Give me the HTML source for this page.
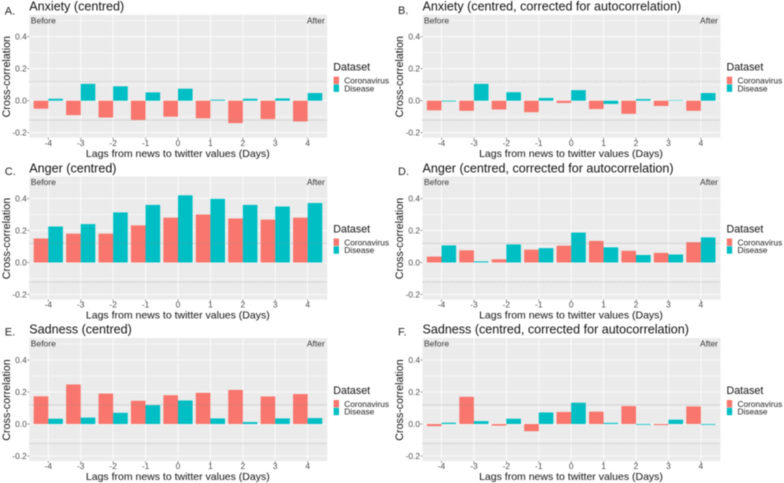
<!DOCTYPE html>
<html>
<head>
<meta charset="utf-8">
<style>
html,body{margin:0;padding:0;background:#fff;width:784px;height:483px;overflow:hidden}
svg{display:block;filter:blur(0.45px)}
text{font-family:"Liberation Sans",sans-serif}
</style>
</head>
<body>
<svg id="fig" xmlns="http://www.w3.org/2000/svg" width="784" height="483" viewBox="0 0 784 483"></svg>
<script>
var lags = [-4,-3,-2,-1,0,1,2,3,4];
var yTicks = [0.4,0.2,0,-0.2];
var yTickLabels = ['0.4','0.2','0.0','-0.2'];
var yMinor = [0.5,0.3,0.1,-0.1];
var significance = [0.12,-0.122];
var seriesNames = ['Coronavirus','Disease'];
var seriesColors = ['#F8766D','#00BFC4'];

var anxietyCorona = [-0.05,-0.09,-0.105,-0.12,-0.1,-0.11,-0.14,-0.115,-0.13];
var anxietyDisease = [0.012,0.105,0.09,0.052,0.075,0.006,0.012,0.014,0.048];
var anxietyCorrCorona = [-0.06,-0.063,-0.055,-0.072,-0.014,-0.052,-0.082,-0.033,-0.063];
var anxietyCorrDisease = [-0.005,0.105,0.053,0.017,0.066,-0.02,0.01,0.003,0.048];
var angerCorona = [0.15,0.18,0.18,0.232,0.28,0.3,0.275,0.268,0.28];
var angerDisease = [0.225,0.24,0.313,0.36,0.42,0.398,0.36,0.35,0.372];
var angerCorrCorona = [0.037,0.076,0.02,0.08,0.105,0.135,0.073,0.06,0.127];
var angerCorrDisease = [0.107,0.007,0.113,0.09,0.187,0.095,0.047,0.05,0.157];
var sadnessCorona = [0.173,0.247,0.19,0.145,0.18,0.195,0.213,0.172,0.187];
var sadnessDisease = [0.033,0.04,0.07,0.118,0.147,0.035,0.012,0.035,0.037];
var sadnessCorrCorona = [-0.013,0.17,-0.01,-0.045,0.075,0.077,0.112,-0.007,0.11];
var sadnessCorrDisease = [0.008,0.018,0.033,0.072,0.133,0.007,-0.005,0.027,-0.005];

var NS = 'http://www.w3.org/2000/svg';
var fig = document.getElementById('fig');

function make(parent, tag, attrs, txt) {
  var el = document.createElementNS(NS, tag);
  for (var k in attrs) el.setAttribute(k, attrs[k]);
  if (txt !== undefined) el.textContent = txt;
  parent.appendChild(el);
  return el;
}

function drawPanel(letter, title, corona, disease, L, T, letterY, titleY, tickY, xTitleY) {
  var plotW = 298, plotH = 123;
  var R = L + plotW, B = T + plotH;
  var yMax = 0.5375, scale = 160;
  var xS = function (lag) { return L + 19 + (lag + 4) * 32.42; };
  var yS = function (v) { return T + (yMax - v) * scale; };
  var key = letter.toLowerCase();

  var g = make(fig, 'g', {});
  
  

  var lt = make(g, 'text', {x: L - 24.5, y: letterY, 'font-size': 11, fill: '#222'}, letter + '.');
  
  

  var tt = make(g, 'text', {x: L, y: titleY, 'font-size': 12.55, fill: '#111'}, title);
  
  

  var bg = make(g, 'rect', {x: L, y: T, width: plotW, height: plotH, fill: '#EBEBEB'});
  
  

  yMinor.forEach(function (v) {
    var m = make(g, 'line', {x1: L, x2: R, y1: yS(v), y2: yS(v), stroke: '#fff', 'stroke-width': 0.4});
    
    
  });
  yTicks.forEach(function (v, i) {
    var y = yS(v);
    var gl = make(g, 'line', {x1: L, x2: R, y1: y, y2: y, stroke: '#fff', 'stroke-width': 0.8});
    
    
    var tm = make(g, 'line', {x1: L - 2, x2: L, y1: y, y2: y, stroke: '#555', 'stroke-width': 0.6});
    
    
    var tl = make(g, 'text', {x: L - 2.5, y: y + 3, 'font-size': 8.4, fill: '#4D4D4D', 'text-anchor': 'end'}, yTickLabels[i]);
    
    
  });
  lags.forEach(function (lag) {
    var x = xS(lag);
    var gl = make(g, 'line', {x1: x, x2: x, y1: T, y2: B, stroke: '#fff', 'stroke-width': 0.8});
    
    
    var tm = make(g, 'line', {x1: x, x2: x, y1: B, y2: B + 2, stroke: '#555', 'stroke-width': 0.6});
    
    
    var tl = make(g, 'text', {x: x, y: tickY, 'font-size': 8.4, fill: '#4D4D4D', 'text-anchor': 'middle'}, String(lag));
    
    
  });

  var bw = 14.6;
  [corona, disease].forEach(function (vals, s) {
    vals.forEach(function (v, i) {
      var x = xS(lags[i]) + (s === 0 ? -bw : 0);
      var y0 = yS(0), y1 = yS(v);
      var b = make(g, 'rect', {
        x: x, y: Math.min(y0, y1), width: bw,
        height: Math.abs(y1 - y0), fill: seriesColors[s]
      });
      
      
    });
  });

  significance.forEach(function (v) {
    var d = make(g, 'line', {
      x1: L, x2: R, y1: yS(v), y2: yS(v), stroke: '#8c8c8c',
      'stroke-width': 0.6, 'stroke-dasharray': '1.2 1.2', opacity: 0.75
    });
    
    
  });

  var before = make(g, 'text', {x: L + 1.5, y: T + 8.6, 'font-size': 8.5, fill: '#333'}, 'Before');
  
  
  var after = make(g, 'text', {x: R - 2.5, y: T + 8.6, 'font-size': 8.5, fill: '#333', 'text-anchor': 'end'}, 'After');
  
  

  var xt = make(g, 'text', {x: L + plotW / 2 - 0.5, y: xTitleY, 'font-size': 10.5, fill: '#111', 'text-anchor': 'middle'}, 'Lags from news to twitter values (Days)');
  
  

  var yc = T + plotH / 2 + 0.5;
  var yt = make(g, 'text', {
    x: 0, y: 0, 'font-size': 10.7, fill: '#111', 'text-anchor': 'middle',
    transform: 'translate(' + (L - 19.5) + ',' + yc + ') rotate(-90)'
  }, 'Cross-correlation');
  
  

  var z = yS(0);
  var lg = make(g, 'g', {});
  
  
  var lh = make(lg, 'text', {x: L + 304, y: z - 30, 'font-size': 10.7, fill: '#111'}, 'Dataset');
  
  
  seriesNames.forEach(function (name, i) {
    var ky = z - 24 + i * 7.8;
    var sw = make(lg, 'rect', {x: L + 304.3, y: ky, width: 5.4, height: 7.4, fill: seriesColors[i]});
    
    
    var lb = make(lg, 'text', {x: L + 315, y: ky + 6.8, 'font-size': 8.3, fill: '#222'}, name);
    
    
  });
}

drawPanel('A', 'Anxiety (centred)', anxietyCorona, anxietyDisease, 29.3, 14.7, 14.5, 10.5, 146, 157);
drawPanel('B', 'Anxiety (centred, corrected for autocorrelation)', anxietyCorrCorona, anxietyCorrDisease, 422.5, 14.7, 14, 10.5, 146, 157);
drawPanel('C', 'Anger (centred)', angerCorona, angerDisease, 29.3, 176.5, 175, 172.5, 307.5, 318.5);
drawPanel('D', 'Anger (centred, corrected for autocorrelation)', angerCorrCorona, angerCorrDisease, 422.5, 176.5, 175, 172.5, 307.5, 318.5);
drawPanel('E', 'Sadness (centred)', sadnessCorona, sadnessDisease, 29.3, 338, 335.5, 333.5, 469, 480);
drawPanel('F', 'Sadness (centred, corrected for autocorrelation)', sadnessCorrCorona, sadnessCorrDisease, 422.5, 338, 335.5, 333.5, 469, 480);
</script>
</body>
</html>
